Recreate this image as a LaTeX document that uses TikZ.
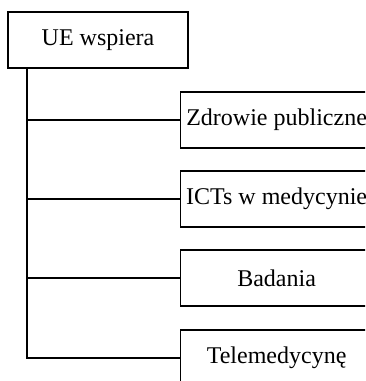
\documentclass[tikz,border=0pt]{standalone}
\usepackage{fontspec}
\setmainfont{Liberation Serif}
\usetikzlibrary{positioning}
\tikzset{
  box/.style={draw, line width=1.2pt, inner sep=0pt, minimum height=56pt,
      font=\fontsize{24}{28}\selectfont},
  topbox/.style={box, minimum width=180pt},
  subbox/.style={box, minimum width=192pt, anchor=west},
  link/.style={line width=1.2pt},
}

\begin{document}
\begin{tikzpicture}[x=1pt, y=-1pt]
  \useasboundingbox (0,0) rectangle (365,381);
  \clip (0,0) rectangle (365,381);
  % main box
  \node[topbox] (ue) at (98,40) {UE wspiera};
  \coordinate (spine) at (27,0);
  % sub boxes
  \node[subbox] (zdrowie) at (180,120) {Zdrowie publiczne};
  \node[subbox] (icts) at (180,199) {ICTs w medycynie};
  \node[subbox] (badania) at (180,278) {Badania};
  \node[subbox] (tele) at (180,358) {Telemedycynę};
  % connectors
  \draw[link] (spine |- ue.south) |- (tele.west);
  \draw[link] (spine |- zdrowie.west) -- (zdrowie.west);
  \draw[link] (spine |- icts.west) -- (icts.west);
  \draw[link] (spine |- badania.west) -- (badania.west);
\end{tikzpicture}
\end{document}
